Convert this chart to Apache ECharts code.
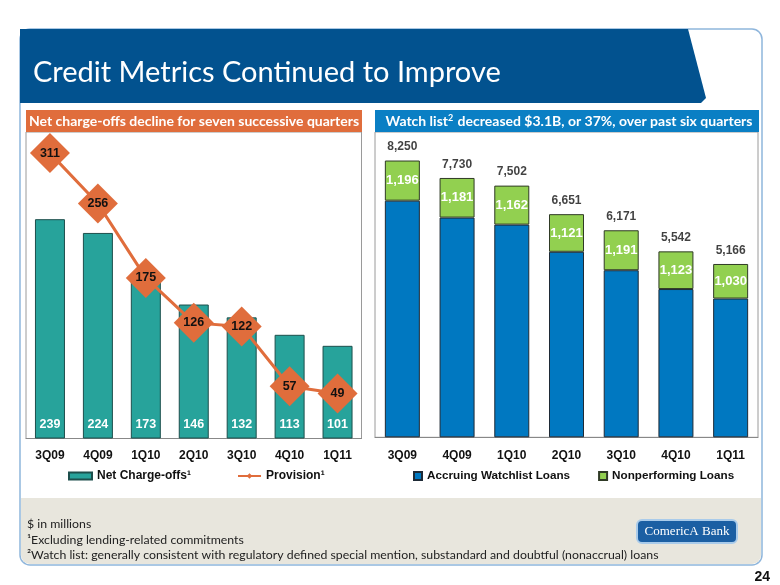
<!DOCTYPE html>
<html><head><meta charset="utf-8">
<script src="https://cdn.jsdelivr.net/npm/echarts@6/dist/echarts.min.js"></script>
<style>html,body{margin:0;padding:0;background:#fff}#c{width:780px;height:585px}</style>
</head><body><div id="c"></div>
<script>
const quarters = ['3Q09','4Q09','1Q10','2Q10','3Q10','4Q10','1Q11'];
const netChargeOffs = [239,224,173,146,132,113,101];
const provision = [311,256,175,126,122,57,49];
const watchTotals = [8250,7730,7502,6651,6171,5542,5166];
const nonperforming = [1196,1181,1162,1121,1191,1123,1030];
const accruing = [7054,6549,6340,5530,4980,4419,4136];

const fmt = v => String(v).replace(/\B(?=(\d{3})+(?!\d))/g, ',');
const AX = 'Liberation Sans, Arial, sans-serif';

const chart = echarts.init(document.getElementById('c'), null, {renderer:'canvas'});
chart.setOption({
  animation:false,
  backgroundColor:'#ffffff',
  graphic:[
    {type:'rect', z:-20, shape:{x:20,y:29,width:742,height:536,r:10}, style:{fill:'#ffffff',stroke:'#8fb6dc',lineWidth:1.5}},
    {type:'rect', z:-19, shape:{x:21,y:498,width:740,height:66,r:[0,0,9,9]}, style:{fill:'#e8e6dd'}},
    {type:'polygon', z:-18, shape:{points:[[20,29],[688,29],[706,98],[701,103],[20,103]]}, style:{fill:'#02528f'}},
    {type:'text', z:10, style:{x:33,y:73,text:'Credit Metrics Continued to Improve',fill:'#ffffff',font:'29px Lato, sans-serif',verticalAlign:'middle'}},
    {type:'rect', z:5, shape:{x:26,y:110,width:336,height:22}, style:{fill:'#e06d3c'}},
    {type:'text', z:10, style:{x:194,y:121,text:'Net charge-offs decline for seven successive quarters',fill:'#ffffff',font:'bold 14px Lato, sans-serif',align:'center',verticalAlign:'middle'}},
    {type:'rect', z:5, shape:{x:375,y:110,width:384,height:22}, style:{fill:'#0a7fc4'}},
    {type:'text', z:10, style:{x:569,y:121,text:'{a|Watch list}{s|2}{a| decreased $3.1B, or 37%, over past six quarters}',fill:'#ffffff',align:'center',verticalAlign:'middle',
      rich:{a:{font:'bold 14px Lato, sans-serif',fill:'#fff'},s:{font:'bold 9px Lato, sans-serif',fill:'#fff',verticalAlign:'top',padding:[0,1,6,0]}}}},
    {type:'text', z:10, style:{x:27,y:524,text:'$ in millions',fill:'#222',font:'12.3px Lato, sans-serif',verticalAlign:'middle'}},
    {type:'text', z:10, style:{x:27,y:540,text:'¹Excluding lending-related commitments',fill:'#222',font:'12.3px Lato, sans-serif',verticalAlign:'middle'}},
    {type:'text', z:10, style:{x:27,y:555,text:'²Watch list: generally consistent with regulatory defined special mention, substandard and doubtful (nonaccrual) loans',fill:'#222',font:'12.3px Lato, sans-serif',verticalAlign:'middle'}},
    {type:'rect', z:6, shape:{x:637,y:520,width:100,height:23,r:5}, style:{fill:'#1b5fa3',stroke:'#a9cbea',lineWidth:2}},
    {type:'text', z:10, style:{x:687,y:532,text:'ComericA Bank',fill:'#ffffff',font:'13px Liberation Serif, serif',align:'center',verticalAlign:'middle'}},
    {type:'text', z:10, style:{x:770,y:577,text:'24',fill:'#111',font:'bold 14px Liberation Sans, Arial, sans-serif',align:'right',verticalAlign:'middle'}}
  ],
  grid:[
    {left:26,top:132,width:335.5,height:306.5,show:true,borderColor:'#9a9a9a',borderWidth:1,backgroundColor:'transparent'},
    {left:375,top:132,width:383,height:305.3,show:true,borderColor:'#9a9a9a',borderWidth:1,backgroundColor:'transparent'}
  ],
  xAxis:[
    {type:'category',gridIndex:0,data:quarters,axisLine:{lineStyle:{color:'#888'}},axisTick:{length:4,lineStyle:{color:'#888'}},
     axisLabel:{color:'#111',fontFamily:AX,fontWeight:'bold',fontSize:12,margin:11}},
    {type:'category',gridIndex:1,data:quarters,axisLine:{lineStyle:{color:'#888'}},axisTick:{length:4,lineStyle:{color:'#888'}},
     axisLabel:{color:'#111',fontFamily:AX,fontWeight:'bold',fontSize:12,margin:12}}
  ],
  yAxis:[
    {type:'value',gridIndex:0,min:0,max:334,show:false,splitLine:{show:false}},
    {type:'value',gridIndex:1,min:0,max:9100,show:false,splitLine:{show:false}}
  ],
  legend:[
    {left:68,top:470,padding:0,itemWidth:23,itemHeight:7,itemGap:46,data:[{name:'Net Charge-offs¹',icon:'rect'},{name:'Provision¹'}],
     textStyle:{color:'#111',fontFamily:AX,fontWeight:'bold',fontSize:12}},
    {left:413,top:470,padding:0,itemWidth:8,itemHeight:8,itemGap:28,data:[{name:'Accruing Watchlist Loans',icon:'rect'},{name:'Nonperforming Loans',icon:'rect'}],
     textStyle:{color:'#111',fontFamily:AX,fontWeight:'bold',fontSize:11.7}}
  ],
  series:[
    {name:'Net Charge-offs¹',type:'bar',xAxisIndex:0,yAxisIndex:0,data:netChargeOffs,barWidth:30,
     itemStyle:{color:'#27a39b',borderColor:'#1d4f4c',borderWidth:1},
     label:{show:true,position:'insideBottom',distance:7,color:'#ffffff',fontFamily:AX,fontWeight:'bold',fontSize:12.5}},
    {name:'Provision¹',type:'line',xAxisIndex:0,yAxisIndex:0,data:provision,symbol:'diamond',symbolSize:40,z:5,
     lineStyle:{color:'#e06d3c',width:3},itemStyle:{color:'#e06d3c'},
     label:{show:true,position:'inside',color:'#111',fontFamily:AX,fontWeight:'bold',fontSize:12.5}},
    {name:'Accruing Watchlist Loans',type:'bar',stack:'w',xAxisIndex:1,yAxisIndex:1,data:accruing,barWidth:35,
     itemStyle:{color:'#0078c1',borderColor:'#1e2a36',borderWidth:1}},
    {name:'Nonperforming Loans',type:'bar',stack:'w',xAxisIndex:1,yAxisIndex:1,data:nonperforming,barWidth:35,
     itemStyle:{color:'#92d050',borderColor:'#2f3a25',borderWidth:1},
     label:{show:true,position:'inside',color:'#ffffff',fontFamily:AX,fontWeight:'bold',fontSize:13,formatter:p=>fmt(p.value)}},
    {name:'Total',type:'scatter',xAxisIndex:1,yAxisIndex:1,data:watchTotals,symbolSize:1,itemStyle:{color:'rgba(0,0,0,0)'},
     label:{show:true,position:'top',distance:7,color:'#111',fontFamily:AX,fontWeight:'bold',fontSize:12,formatter:p=>fmt(p.value)}}
  ]
});
</script></body></html>
